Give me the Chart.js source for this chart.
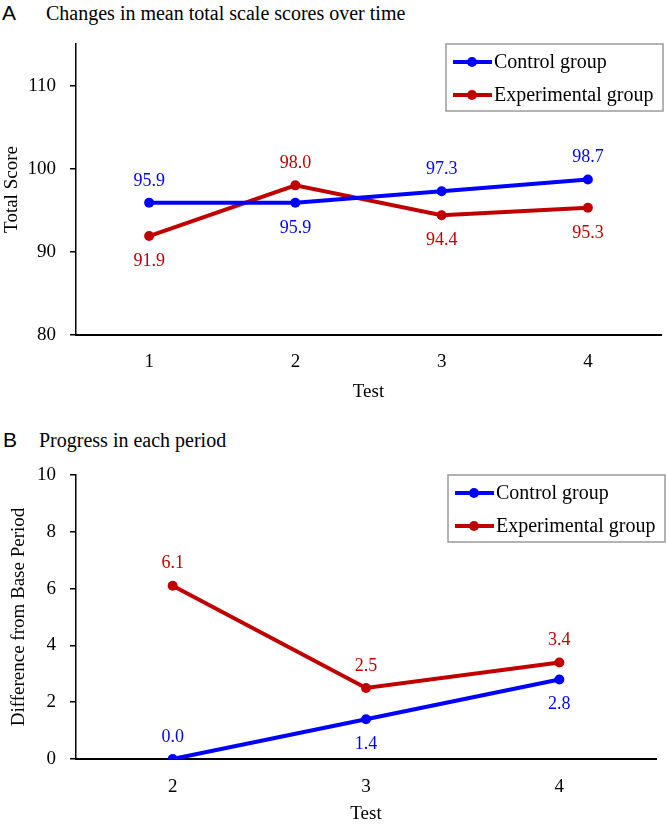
<!DOCTYPE html>
<html><head><meta charset="utf-8">
<script src="https://cdn.jsdelivr.net/npm/chart.js@4"></script>
<style>
body{margin:0;background:#fff;width:666px;height:824px;position:relative;overflow:hidden}
.c{position:absolute;left:0;width:666px;height:412px}
.lbl{position:absolute;line-height:1;white-space:nowrap;color:#000}
.sans{font-family:"Liberation Sans",Arial,sans-serif;font-size:21px}
.serif{font-family:"Liberation Serif","Times New Roman",serif;font-size:20px}
</style></head><body>
<div class="lbl sans" style="left:2px;top:2px">A</div>
<div class="lbl serif" style="left:46px;top:3px">Changes in mean total scale scores over time</div>
<div class="lbl sans" style="left:3px;top:429px">B</div>
<div class="lbl serif" style="left:39px;top:430px">Progress in each period</div>
<div class="c" style="top:0"><canvas id="chartA" width="666" height="412"></canvas></div>
<div class="c" style="top:412px"><canvas id="chartB" width="666" height="412"></canvas></div>
<script>
// ---- data ----
const seriesNames = ['Control group', 'Experimental group'];
const testsA = ['1', '2', '3', '4'];
const controlA = [95.9, 95.9, 97.3, 98.7];
const experimentalA = [91.9, 98.0, 94.4, 95.3];
const yTicksA = [80, 90, 100, 110];
const testsB = ['2', '3', '4'];
const controlB = [0.0, 1.4, 2.8];
const experimentalB = [6.1, 2.5, 3.4];
const yTicksB = [0, 2, 4, 6, 8, 10];

// ---- styles ----
const BLUE = '#0000FF';
const RED = '#C00000';
const FONT = '"Liberation Serif", "Times New Roman", serif';
Chart.defaults.font.family = FONT;
Chart.defaults.color = '#000';

const labelPosA = [['above','below','above','above'], ['below','above','below','below']];
const labelPosB = [['above','below','below'], ['above','above','above']];

const valueLabels = {
  id: 'valueLabels',
  afterDatasetsDraw(chart, args, opts) {
    const ctx = chart.ctx;
    ctx.save();
    ctx.font = '18px ' + FONT;
    ctx.textAlign = 'center';
    ctx.textBaseline = 'middle';
    chart.data.datasets.forEach((ds, i) => {
      const meta = chart.getDatasetMeta(i);
      meta.data.forEach((pt, j) => {
        const pos = opts.positions[i][j];
        const y = pos === 'above' ? pt.y - 22 : pt.y + 25;
        ctx.fillStyle = ds.borderColor;
        ctx.fillText(Number(ds.data[j]).toFixed(1), pt.x, y);
      });
    });
    ctx.restore();
  }
};

const boxLegend = {
  id: 'boxLegend',
  afterDraw(chart, args, opts) {
    const ctx = chart.ctx;
    const {x, y, w, h, rowH, first} = opts;
    ctx.save();
    ctx.strokeStyle = '#9a9a9a';
    ctx.lineWidth = 1.5;
    ctx.strokeRect(x, y, w, h);
    chart.data.datasets.forEach((ds, i) => {
      const cy = y + first + i * rowH;
      ctx.strokeStyle = ds.borderColor;
      ctx.lineWidth = 4;
      ctx.beginPath(); ctx.moveTo(x + 7, cy); ctx.lineTo(x + 46, cy); ctx.stroke();
      ctx.fillStyle = ds.borderColor;
      ctx.beginPath(); ctx.arc(x + 26, cy, 5, 0, Math.PI * 2); ctx.fill();
      ctx.fillStyle = '#000';
      ctx.font = '20px ' + FONT;
      ctx.textAlign = 'left';
      ctx.textBaseline = 'middle';
      ctx.fillText(ds.label, x + 48, cy + 1);
    });
    ctx.restore();
  }
};

function makeDatasets(c, e) {
  return [
    {label: seriesNames[0], data: c, borderColor: BLUE, backgroundColor: BLUE, pointBackgroundColor: BLUE,
     pointBorderColor: BLUE, borderWidth: 4, pointRadius: 5, pointBorderWidth: 0, tension: 0},
    {label: seriesNames[1], data: e, borderColor: RED, backgroundColor: RED, pointBackgroundColor: RED,
     pointBorderColor: RED, borderWidth: 4, pointRadius: 5, pointBorderWidth: 0, tension: 0}
  ];
}

function makeOptions(o) {
  return {
    responsive: false,
    animation: false,
    layout: {padding: {top: o.top, right: o.right, left: 0, bottom: 0}},
    plugins: {
      legend: {display: false},
      tooltip: {enabled: false},
      valueLabels: {positions: o.positions},
      boxLegend: o.legend
    },
    scales: {
      x: {
        offset: true,
        grid: {display: false, drawTicks: false},
        border: {display: true, color: '#000', width: 2},
        afterFit: s => { s.height = o.xHeight; },
        ticks: {font: {size: 19}, color: '#000', padding: o.xTickPad},
        title: {display: true, text: 'Test', font: {size: 19, lineHeight: 1}, color: '#000',
                padding: {top: 0, bottom: o.xTitlePad}}
      },
      y: {
        min: o.min, max: o.max,
        afterBuildTicks: s => { s.ticks = o.yTicks.map(v => ({value: v})); },
        afterFit: s => { s.width = 76; },
        grid: {drawOnChartArea: false, drawTicks: true, tickLength: 6, color: '#000', lineWidth: 1.5},
        border: {display: true, color: '#000', width: 1.5},
        ticks: {font: {size: 19}, color: '#000', padding: 14},
        title: {display: true, text: o.yTitle, font: {size: 19, lineHeight: 1}, color: '#000',
                padding: {top: o.yTitlePad, bottom: 0}}
      }
    }
  };
}

new Chart(document.getElementById('chartA'), {
  type: 'line',
  data: {labels: testsA, datasets: makeDatasets(controlA, experimentalA)},
  options: makeOptions({
    top: 44, right: 1, xHeight: 77, xTickPad: 16, xTitlePad: 10,
    min: 80, max: 115, yTicks: yTicksA, yTitle: 'Total Score', yTitlePad: 3,
    positions: labelPosA,
    legend: {x: 446, y: 44, w: 217, h: 67, rowH: 33, first: 18}
  }),
  plugins: [valueLabels, boxLegend]
});

new Chart(document.getElementById('chartB'), {
  type: 'line',
  data: {labels: testsB, datasets: makeDatasets(controlB, experimentalB)},
  options: makeOptions({
    top: 63, right: 10, xHeight: 65, xTickPad: 17, xTitlePad: 0,
    min: 0, max: 10, yTicks: yTicksB, yTitle: 'Difference from Base Period', yTitlePad: 10,
    positions: labelPosB,
    legend: {x: 448, y: 63, w: 217, h: 67, rowH: 33, first: 18}
  }),
  plugins: [valueLabels, boxLegend]
});
</script>
</body></html>
